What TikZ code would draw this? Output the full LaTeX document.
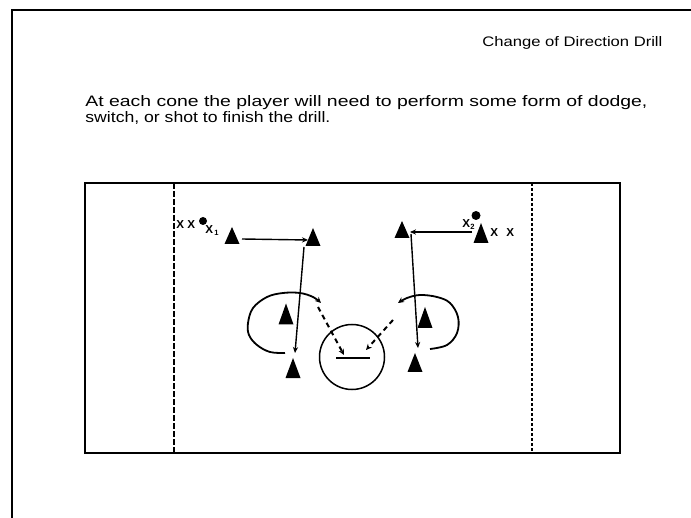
\documentclass[tikz,border=0pt]{standalone}
\usepackage{fontspec}
\usepackage{graphicx}
\setmainfont{Liberation Sans}
\usetikzlibrary{arrows.meta,calc}
\begin{document}
\begin{tikzpicture}[x=0.5pt,y=-0.5pt,
  cone/.style={minimum width=7.5pt,minimum height=#1,inner sep=0pt,outer sep=0pt,
    path picture={\fill[black] (path picture bounding box.south west) -- (path picture bounding box.north) -- (path picture bounding box.south east) -- cycle;}},
  ball/.style={circle,fill=black,inner sep=0pt,minimum size=4pt},
  lbl/.style={font=\fontsize{5.8pt}{6pt}\selectfont\bfseries,inner sep=0pt,anchor=base west},
  sub/.style={font=\fontsize{3.8pt}{4pt}\selectfont\bfseries,inner sep=0pt,anchor=base west},
  arr/.style={line width=0.7pt,-{Stealth[length=3pt,width=2.6pt]}},
  dasharr/.style={line width=1pt,dash pattern=on 2.5pt off 2pt,-{Stealth[length=3pt,width=2.8pt]}},
  looparr/.style={line width=0.9pt,-{Stealth[length=3pt,width=2.8pt]}},
  txt/.style={inner sep=0pt,anchor=base west}
]
\useasboundingbox (0,0) rectangle (691,518);
% page frame
\draw[line width=1pt] (12,518) -- (12,10) -- (691,10);
% texts
\node[txt] (title) at (482,47) {\resizebox{90pt}{5pt}{Change of Direction Drill}};
\node[txt] (line1) at (85,107) {\resizebox{281pt}{5.5pt}{At each cone the player will need to perform some form of dodge,}};
\node[txt] (line2) at (85,123) {\resizebox{122.5pt}{5.5pt}{switch, or shot to finish the drill.}};
% field
\draw[line width=1pt] (85,183) rectangle (620,453);
\draw[line width=1.2pt] (85,183) -- (85,453);
\draw[line width=0.9pt,dash pattern=on 3pt off 1pt] (174,183) -- (174,453);
\draw[line width=0.7pt,dash pattern=on 1.5pt off 1pt] (532,183) -- (532,453);
% cones
\node[cone=8.5pt] (A) at (232,235.5) {};
\node[cone=9pt] (B) at (313,237) {};
\node[cone=8.5pt] (C) at (402,229.5) {};
\node[cone=10pt] (D) at (481,233) {};
\node[cone=10.5pt] (LM) at (286,314) {};
\node[cone=10.5pt] (RM) at (425,317.5) {};
\node[cone=10pt] (LL) at (293,368) {};
\node[cone=9.5pt] (RL) at (415,362.5) {};
% players and balls
\node[lbl] (xa) at (176,229) {X};
\node[lbl] (xb) at (187,229) {X};
\node[ball] (ball1) at (203,221) {};
\node[lbl] (x1) at (205,233.5) {X};
\node[sub] (s1) at (214,236) {1};
\node[ball,minimum size=4.5pt] (ball2) at (476,215.5) {};
\node[lbl] (x2) at (462,227.5) {X};
\node[sub] (s2) at (470,230) {2};
\node[lbl] (xc) at (490,236.5) {X};
\node[lbl] (xd) at (506,236.5) {X};
% goal
\node[circle,draw,line width=0.75pt,minimum size=32.5pt,inner sep=0pt] (goal) at (352,357) {};
\draw[line width=1pt] ([shift={(-16,1)}]goal.center) -- ([shift={(18,1)}]goal.center);
% runs
\draw[arr] ([shift={(2.5,3.5)}]A.east) -- ([shift={(2.5,3)}]B.west);
\draw[arr] ([shift={(-9,1)}]B.south) -- ([shift={(2,-5)}]LL.north);
\draw[arr] ([shift={(-1.5,-1)}]D.west) -- ([shift={(0.5,2.5)}]C.east);
\draw[arr] ([shift={(9,-4)}]C.south) -- ([shift={(3,-5)}]RL.north);
% loops
\draw[looparr] plot[smooth,tension=0.6] coordinates {(285,353) (270,352) (257,345) (249,335) (248,323) (253,308) (267,297) (283,293) (300,293) (313,297) (321,303)};
\draw[looparr] plot[smooth,tension=0.6] coordinates {(430,349) (447,345) (457,333) (458,317) (450,303) (437,297) (420,295) (407,298) (398,303)};
% shots
\coordinate (dl) at (318,307);
\coordinate (dr) at (393,320);
\draw[dasharr] (dl) -- ([shift={(-8,-2)}]goal.center);
\draw[dasharr] (dr) -- ([shift={(14,-7)}]goal.center);
\end{tikzpicture}
\end{document}
